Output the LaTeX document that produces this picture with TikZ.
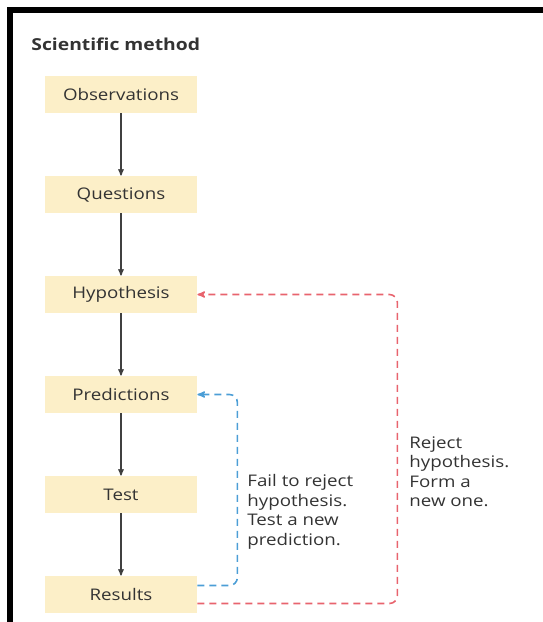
\documentclass[tikz,border=0pt]{standalone}
\usepackage{fontspec}
\setmainfont{Open Sans}[FakeStretch=1.17]
\usetikzlibrary{arrows,positioning}
\definecolor{boxfill}{HTML}{FCEFC8}
\definecolor{textgray}{HTML}{333333}
\definecolor{linegray}{HTML}{404040}
\definecolor{rejectred}{HTML}{E8646E}
\definecolor{retestblue}{HTML}{4C9ED6}

\begin{document}
\begin{tikzpicture}[x=1pt,y=1pt,->,>=stealth',thick, node distance = 100pt,
  stage/.style={fill=boxfill, minimum width=152pt, minimum height=37pt, inner sep=0pt,
    text=textgray, font=\fontsize{16}{19}\selectfont},
  note/.style={anchor=north west, align=left, inner sep=0pt, text=textgray,
    font=\fontsize{16}{19.5}\selectfont},
  flow/.style={draw=linegray, line width=1.3pt},
  loopback/.style={line width=1.6pt, dash pattern=on 7pt off 5pt, rounded corners=8pt}]
\useasboundingbox (0,0) rectangle (543,-622);
\draw[-, line width=5.5pt] (9.75,-622) |- (543,-9.75);

\node[anchor=west, inner sep=0pt, text=textgray, font=\fontsize{16.5}{19}\selectfont\bfseries] (title) at (31,-44) {Scientific method};

\node[stage] (obs) at (121,-94.5) {Observations};
\node[stage, below of = obs](que) {Questions};
\node[stage, below of = que](hyp) {Hypothesis};
\node[stage, below of = hyp](pre) {Predictions};
\node[stage, below of = pre](tst) {Test};
\node[stage, below of = tst](res) {Results};

\path[flow] (obs) edge (que)
	  (que) edge (hyp)
	  (hyp) edge (pre)
	  (pre) edge (tst)
	  (tst) edge (res);

% back to the predictions / back to the hypothesis
\draw[loopback, retestblue] ([yshift=9pt]res.east) -| ([xshift=40pt]pre.east) -- (pre.east);
\draw[loopback, rejectred] ([yshift=-9pt]res.east) -| ([xshift=200pt]hyp.east) -- (hyp.east);

\node[note] (failnote) at (247,-474) {Fail to reject\\hypothesis.\\Test a new\\prediction.};
\node[note] (rejectnote) at (409,-436) {Reject\\hypothesis.\\Form a\\new one.};
\end{tikzpicture}
\end{document}
